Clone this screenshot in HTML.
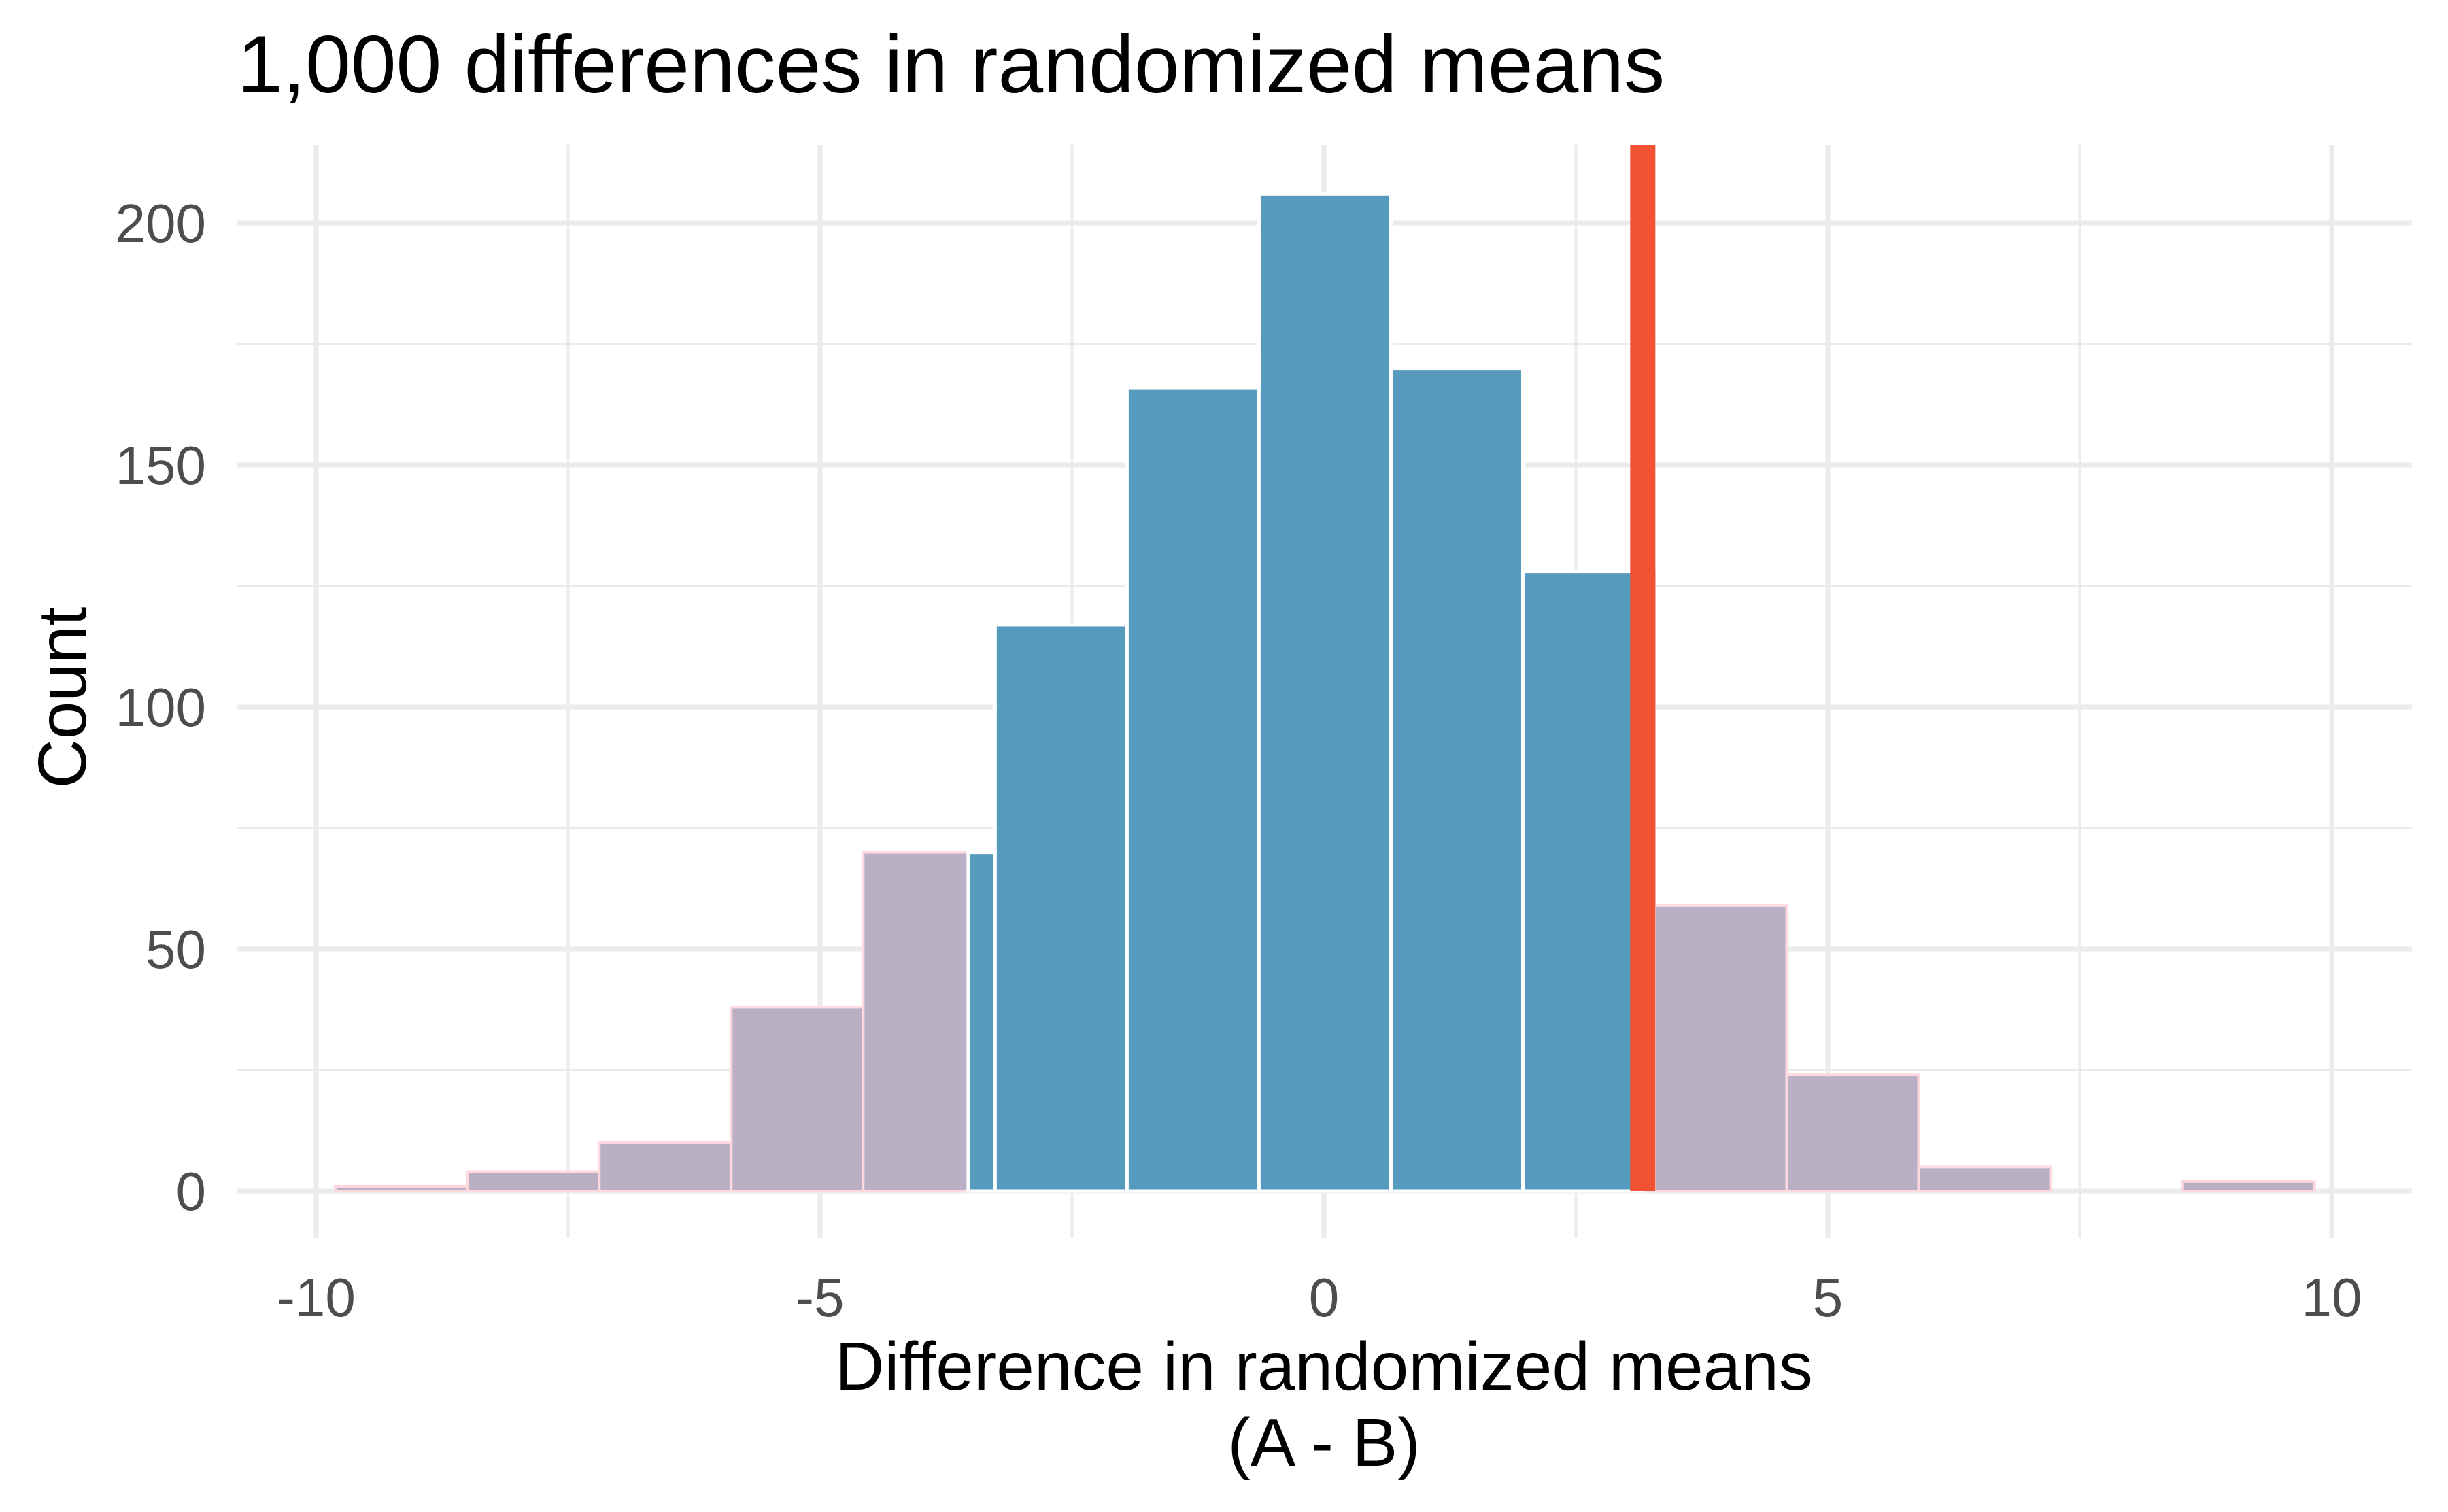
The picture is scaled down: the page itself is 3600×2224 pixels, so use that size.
<!DOCTYPE html>
<html><head><meta charset="utf-8"><style>
html,body{margin:0;padding:0;background:#fff;}
svg{display:block;font-family:"Liberation Sans",Arial,sans-serif;}
</style></head><body>
<svg id="chart" width="3600" height="2224" viewBox="0 0 3600 2224" xmlns="http://www.w3.org/2000/svg">
<rect width="3600" height="2224" fill="#fff"/>
<g id="grid"></g>
<g id="bars"></g>
<g id="marks"></g>
<g id="axes"></g>
<text x="349" y="136" font-size="120" fill="#000">1,000 differences in randomized means</text>
<text x="1947" y="2044" font-size="100" text-anchor="middle" fill="#000">Difference in randomized means</text>
<text x="1947" y="2156" font-size="100" text-anchor="middle" fill="#000">(A - B)</text>
<text transform="translate(126,1026) rotate(-90)" font-size="100" text-anchor="middle" fill="#000">Count</text>
</svg>
<script>
const binStart = -9.81;
const binWidth = 1.3093;
const counts = [1, 4, 10, 38, 70, 117, 166, 206, 170, 128, 59, 24, 5, 0, 2];
const lowerCut = -3.53;
const observed = 3.16;
const xTicks = [-10, -5, 0, 5, 10];
const xTickLabels = ["-10", "-5", "0", "5", "10"];
const xMinor = [-7.5, -2.5, 2.5, 7.5];
const yTicks = [0, 50, 100, 150, 200];
const yTickLabels = ["0", "50", "100", "150", "200"];
const yMinor = [25, 75, 125, 175];

const NS = "http://www.w3.org/2000/svg";
const panel = {left: 349, right: 3547, top: 214, bottom: 1821};
function xs(v){ return 1947 + v * 148.2; }
function ys(v){ return 1752 - v * 7.12; }
function mk(tag, attrs, parent){
  const e = document.createElementNS(NS, tag);
  for (const k in attrs) e.setAttribute(k, attrs[k]);
  parent.appendChild(e);
  return e;
}
const grid = document.getElementById('grid');
const bars = document.getElementById('bars');
const marks = document.getElementById('marks');
const axes = document.getElementById('axes');

yMinor.forEach(v => {
  const l = mk('line', {x1: panel.left, x2: panel.right, y1: ys(v), y2: ys(v), stroke: '#EBEBEB', 'stroke-width': 4}, grid);
  
  
});
xMinor.forEach(v => {
  const l = mk('line', {x1: xs(v), x2: xs(v), y1: panel.top, y2: panel.bottom, stroke: '#EBEBEB', 'stroke-width': 4}, grid);
  
  
});
yTicks.forEach((v, i) => {
  const l = mk('line', {x1: panel.left, x2: panel.right, y1: ys(v), y2: ys(v), stroke: '#EBEBEB', 'stroke-width': 7}, grid);
  
  
  const t = mk('text', {x: 303, y: ys(v) + 28, 'font-size': 80, 'text-anchor': 'end', fill: '#4D4D4D'}, axes);
  t.textContent = yTickLabels[i];
  
  
});
xTicks.forEach((v, i) => {
  const l = mk('line', {x1: xs(v), x2: xs(v), y1: panel.top, y2: panel.bottom, stroke: '#EBEBEB', 'stroke-width': 7}, grid);
  
  
  const t = mk('text', {x: xs(v), y: 1936, 'font-size': 80, 'text-anchor': 'middle', fill: '#4D4D4D'}, axes);
  t.textContent = xTickLabels[i];
  
  
});

counts.forEach((c, i) => {
  const a = binStart + i * binWidth, b = a + binWidth;
  const g = mk('rect', {x: xs(a), y: ys(c), width: xs(b) - xs(a), height: ys(0) - ys(c), fill: '#BAB0C6', stroke: '#FFD9E0', 'stroke-width': 4}, bars);
  
  
  const lo = Math.max(a, lowerCut), hi = Math.min(b, observed);
  if (hi > lo && c > 0) {
    const r = mk('rect', {x: xs(lo), y: ys(c), width: xs(hi) - xs(lo), height: ys(0) - ys(c), fill: '#569BBD', stroke: '#fff', 'stroke-width': 5}, bars);
    
    
  }
});
const obs = mk('rect', {x: xs(observed) - 18, y: panel.top, width: 37, height: ys(0) - panel.top, fill: '#F15234'}, marks);


</script>
</body></html>
